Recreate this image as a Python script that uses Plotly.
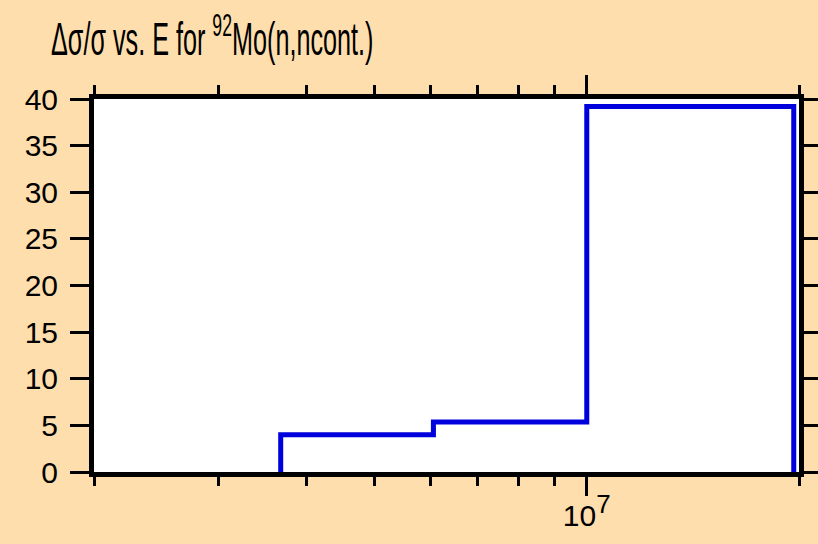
import plotly.graph_objects as go

# ---- data ----
bin_edges = [3.68e6, 6.06e6, 1.0e7, 1.966e7]   # energy bin edges (eV)
rel_unc = [4.0, 5.35, 39.2]                     # Δσ/σ in each bin (%)

x_major_vals = [1e7]
x_major_text = ["10<sup><span style='font-size:26px'>7</span></sup>"]
x_minor_vals = [2e6, 3e6, 4e6, 5e6, 6e6, 7e6, 8e6, 9e6, 2e7]
y_tick_vals = [0, 5, 10, 15, 20, 25, 30, 35, 40]
title_text = "Δσ/σ vs. E for <sup>92</sup>Mo(n,ncont.)"

# build step outline (starts and ends at zero)
xs = [bin_edges[0]]
ys = [0]
for e, v in zip(bin_edges[:-1], rel_unc):
    xs.append(e)
    ys.append(v)
xs += [bin_edges[-1], bin_edges[-1]]
ys += [rel_unc[-1], 0]

fig = go.Figure()
fig.add_trace(go.Scatter(x=xs, y=ys, mode="lines", line=dict(shape="hv", color="#0000DC", width=5),
                         showlegend=False, hoverinfo="skip"))

font = "Liberation Sans, Arial, Helvetica, sans-serif"
fig.update_layout(
    width=818, height=544, autosize=False,
    paper_bgcolor="#FFDEAD", plot_bgcolor="white",
    margin=dict(l=94, r=19, t=99, b=72, autoexpand=False),
    title=dict(text=title_text, x=51/818, xanchor="left", xref="container",
               y=1 - 39/544, yanchor="middle", yref="container",
               font=dict(family=font, size=46, color="black")),
    font=dict(family=font, color="black"),
    showlegend=False,
)
fig.update_xaxes(
    type="log", range=[6.30103, 7.30103], automargin=False,
    showline=True, linecolor="black", linewidth=5, mirror="allticks",
    ticks="outside", ticklen=19, tickwidth=2.5, tickcolor="black",
    tickmode="array", tickvals=x_major_vals, ticktext=x_major_text,
    tickfont=dict(family=font, size=30, color="black"),
    minor=dict(tickmode="array", tickvals=x_minor_vals, ticks="outside", ticklen=9,
               tickwidth=2.5, tickcolor="black", showgrid=False),
    showgrid=False, zeroline=False, ticklabelstandoff=-6,
)
fig.update_yaxes(
    range=[0, 40], automargin=False,
    showline=True, linecolor="black", linewidth=5, mirror="allticks",
    ticks="outside", ticklen=19, tickwidth=2.5, tickcolor="black",
    tickmode="array", tickvals=y_tick_vals,
    tickfont=dict(family=font, size=30, color="black"),
    showgrid=False, zeroline=False, ticklabelstandoff=6,
)

post = """
document.body.style.margin = '0';
document.body.style.overflow = 'hidden';
var gd = document.getElementById('{plot_id}');
gd.style.width = '818px';
gd.style.height = '544px';
function squeezeTitle() {
  var t = gd.querySelector('.gtitle');
  if (t) {
    var x = parseFloat(t.getAttribute('x')) || 0;
    t.setAttribute('transform', 'translate(' + x + ',0) scale(0.548,1) translate(' + (-x) + ',0)');
  }
}
Plotly.relayout(gd, {width: 818, height: 544}).then(squeezeTitle);
"""
fig.write_html("out.html", post_script=post,
               config={"displayModeBar": False, "responsive": False})
